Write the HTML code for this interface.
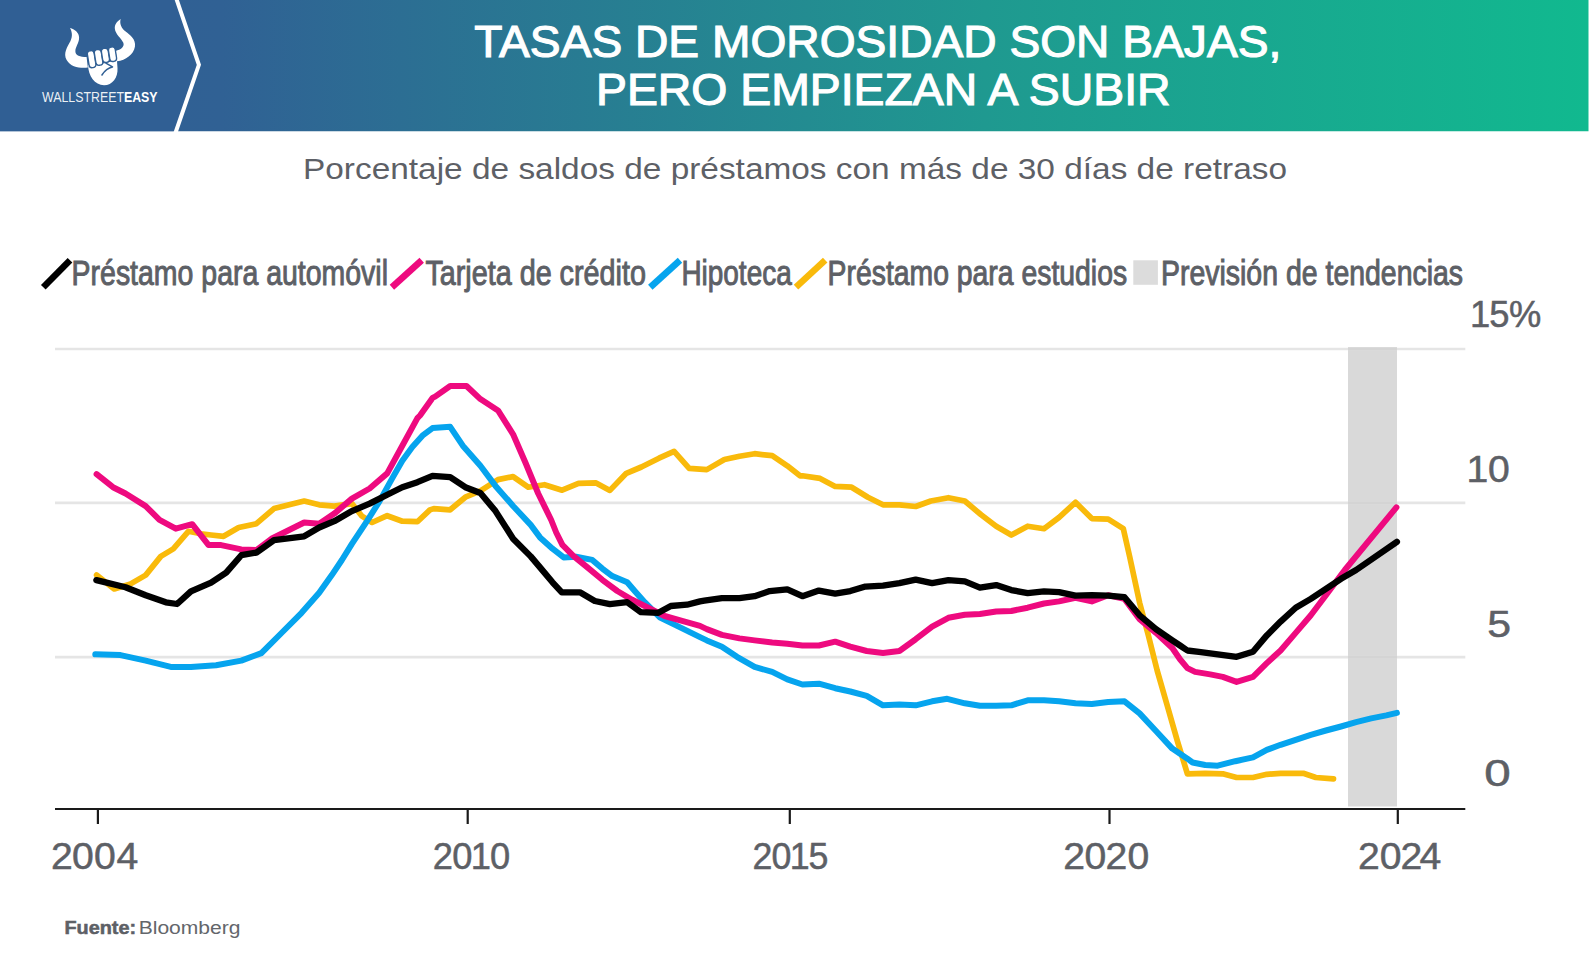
<!DOCTYPE html>
<html lang="es"><head><meta charset="utf-8"><title>Tasas de morosidad</title>
<style>
html,body{margin:0;padding:0;background:#fff;}
body{width:1590px;height:963px;overflow:hidden;font-family:"Liberation Sans",sans-serif;}
svg{display:block}
text{font-family:"Liberation Sans",sans-serif;}
.leg{font-weight:400;stroke:#5d6066;stroke-width:1px;}
.num{stroke:#5d6066;stroke-width:.5px;}
.ln{fill:none;stroke-width:6;stroke-linejoin:round;stroke-linecap:round}
</style></head><body>
<svg width="1590" height="963" viewBox="0 0 1590 963">
<defs>
<linearGradient id="hg" x1="0" y1="0" x2="1" y2="0">
<stop offset="0" stop-color="#305e94"/>
<stop offset="0.14" stop-color="#306194"/>
<stop offset="0.14" stop-color="#306194"/>
<stop offset="0.62" stop-color="#1f9990"/>
<stop offset="1" stop-color="#11b98f"/>
</linearGradient>
</defs>
<rect x="0" y="0" width="1590" height="963" fill="#fff"/>
<!-- header -->
<rect x="0" y="0" width="1588.5" height="131.5" fill="url(#hg)"/>
<polygon points="0,0 176.3,0 198.9,64.8 175.7,131.5 0,131.5" fill="#305f94"/>
<polyline points="176.1,-2 198.9,64.8 175.4,133" fill="none" stroke="#fff" stroke-width="4" stroke-linejoin="miter"/>
<rect x="0" y="131.5" width="1590" height="6" fill="#fff"/>
<!-- logo -->
<g transform="translate(55,10) scale(0.083126)" fill="#fff">
<path d="M180,218 C235,235 290,270 290,335 C290,400 245,445 245,495 C245,545 300,565 380,565 L395,692 C300,700 190,690 140,600 C95,520 150,440 185,375 C215,320 205,260 180,218 Z"/>
<path d="M790,108 C745,135 715,175 720,225 C725,290 800,340 822,395 C840,445 790,480 730,492 L748,618 C850,605 945,540 962,440 C975,350 900,300 850,260 C795,215 775,160 790,108 Z"/>
<path d="M398,660 C400,800 480,905 590,905 C690,905 760,810 752,700 L745,600 L600,640 Z"/>
<g stroke="#305f94" stroke-width="16">
<rect x="0" y="0" width="82" height="205" rx="38" transform="translate(384,497) rotate(-9)"/>
<rect x="0" y="0" width="84" height="190" rx="38" transform="translate(468,483) rotate(-9)"/>
<rect x="0" y="0" width="82" height="170" rx="38" transform="translate(553,468) rotate(-9)"/>
<rect x="0" y="0" width="82" height="175" rx="36" transform="translate(638,452) rotate(-9)"/>
</g>
<path d="M565,782 C600,725 640,695 692,685 L612,640" fill="none" stroke="#305f94" stroke-width="18" stroke-linecap="round" stroke-linejoin="round"/>
</g>
<text x="42" y="101.5" font-size="14.4" fill="#fff" textLength="115.6" lengthAdjust="spacingAndGlyphs"><tspan fill-opacity=".92">WALLSTREET</tspan><tspan font-weight="700">EASY</tspan></text>
<!-- title -->
<text x="474.3" y="56.8" font-size="44.6" fill="#fff" stroke="#fff" stroke-width="1.1" textLength="807" lengthAdjust="spacingAndGlyphs">TASAS DE MOROSIDAD SON BAJAS,</text>
<text x="596" y="104.7" font-size="44.6" fill="#fff" stroke="#fff" stroke-width="1.1" textLength="574.5" lengthAdjust="spacingAndGlyphs">PERO EMPIEZAN A SUBIR</text>
<!-- subtitle -->
<text x="303" y="179" font-size="29" fill="#5d6066" textLength="984" lengthAdjust="spacingAndGlyphs">Porcentaje de saldos de préstamos con más de 30 días de retraso</text>
<!-- legend -->
<line x1="43.3" y1="287.2" x2="70.0" y2="260.2" stroke="#000" stroke-width="6.6"/><text x="71.6" y="284.8" textLength="316.4" lengthAdjust="spacingAndGlyphs" font-size="35.2" fill="#5d6066" class="leg">Préstamo para automóvil</text>
<line x1="391.9" y1="287.2" x2="421.7" y2="260.2" stroke="#ee0a7f" stroke-width="6.6"/><text x="425.4" y="284.8" textLength="220.5" lengthAdjust="spacingAndGlyphs" font-size="35.2" fill="#5d6066" class="leg">Tarjeta de crédito</text>
<line x1="650.3" y1="287.2" x2="680.0" y2="260.2" stroke="#06a4ee" stroke-width="6.6"/><text x="681.4" y="284.8" textLength="110.3" lengthAdjust="spacingAndGlyphs" font-size="35.2" fill="#5d6066" class="leg">Hipoteca</text>
<line x1="796.0" y1="287.2" x2="825.2" y2="260.2" stroke="#f9ba0b" stroke-width="6.6"/><text x="827.6" y="284.8" textLength="299.5" lengthAdjust="spacingAndGlyphs" font-size="35.2" fill="#5d6066" class="leg">Préstamo para estudios</text>
<rect x="1133.3" y="260.3" width="24.6" height="24.5" fill="#dcdcdc"/><text x="1161" y="284.8" textLength="302.1" lengthAdjust="spacingAndGlyphs" font-size="35.2" fill="#5d6066" class="leg">Previsión de tendencias</text>
<!-- chart -->
<rect x="1348" y="347" width="49" height="459.5" fill="#d9d9d9"/>
<g stroke="#e5e5e5" stroke-width="2.7">
<line x1="55" y1="349" x2="1465.3" y2="349"/>
<line x1="55" y1="502.8" x2="1465.3" y2="502.8"/>
<line x1="55" y1="657.2" x2="1465.3" y2="657.2"/>
</g>
<g stroke="#d4d4d4" stroke-width="2.7">
<line x1="1348" y1="349" x2="1397" y2="349"/>
<line x1="1348" y1="502.8" x2="1397" y2="502.8"/>
<line x1="1348" y1="657.2" x2="1397" y2="657.2"/>
</g>
<path class="ln" stroke="#f9ba0b" style="stroke-width:5.7" d="M96.6,575.1 L114.2,588.9 L130.6,583.9 L145.7,575.1 L160.8,556.4 L173.3,548.9 L188.4,531.3 L201.0,533.8 L211.1,535.0 L223.6,536.3 L238.7,527.5 L256.4,523.7 L274.0,508.6 L289.1,504.8 L304.2,501.1 L319.2,504.8 L334.3,506.1 L351.9,503.6 L362.0,516.2 L372.1,522.5 L387.2,515.7 L402.3,521.2 L417.4,521.7 L429.9,509.9 L433.8,508.6 L450.2,509.8 L465.3,497.2 L480.4,490.9 L498.0,479.6 L513.1,476.6 L528.2,487.2 L544.5,484.7 L562.1,490.2 L578.5,483.4 L596.1,482.9 L609.9,490.4 L626.3,473.3 L641.4,467.0 L659.0,458.2 L674.1,451.4 L689.2,468.3 L706.8,469.6 L724.4,459.5 L739.5,456.2 L754.6,453.7 L772.2,455.7 L787.3,465.8 L800.0,475.8 L802.4,475.8 L820.1,478.4 L835.2,486.4 L851.6,487.2 L867.9,497.2 L883.0,504.8 L899.4,504.8 L915.7,506.5 L930.8,501.0 L948.4,497.7 L964.8,501.0 L981.1,514.8 L996.2,526.2 L1011.3,535.0 L1027.7,526.2 L1044.0,528.7 L1059.1,517.4 L1075.5,502.3 L1091.8,518.6 L1108.2,519.1 L1123.3,528.7 L1129.6,556.4 L1139.6,602.7 L1148.4,635.4 L1157.2,670.6 L1167.3,705.8 L1177.4,741.1 L1187.4,773.8 L1205.2,773.3 L1222.8,773.8 L1236.6,777.5 L1253.0,777.5 L1266.8,774.3 L1280.6,773.3 L1303.3,773.3 L1315.8,777.5 L1333.5,778.8"/>
<path class="ln" stroke="#06a4ee" d="M95.3,654.3 L120.5,655.1 L145.7,660.6 L170.8,666.9 L190.9,666.9 L216.1,665.2 L241.3,660.6 L261.4,653.1 L281.5,633.0 L301.6,612.8 L319.2,592.7 L331.8,575.1 L341.9,560.0 L351.9,543.8 L367.0,521.2 L379.6,501.1 L392.2,478.4 L402.3,460.8 L412.3,447.0 L422.4,435.7 L432.5,428.1 L450.2,426.8 L462.8,445.7 L480.4,465.8 L495.5,485.9 L513.1,506.0 L530.7,524.9 L540.0,537.4 L552.5,548.7 L563.7,557.4 L576.1,556.8 L592.3,559.9 L602.3,568.6 L612.3,576.1 L627.2,582.3 L634.7,591.0 L644.7,602.2 L659.6,617.2 L677.1,625.9 L700.0,637.1 L706.8,640.4 L721.9,646.7 L737.0,656.8 L754.6,666.9 L772.2,671.9 L787.3,679.4 L802.4,684.5 L818.9,683.7 L835.2,688.2 L850.3,691.5 L866.7,695.8 L883.0,705.3 L899.4,704.6 L915.7,705.3 L932.1,701.3 L947.2,698.8 L964.8,703.3 L979.9,705.8 L996.2,705.8 L1011.3,705.3 L1027.7,700.3 L1044.0,700.3 L1059.1,701.3 L1075.5,703.3 L1091.8,704.1 L1108.2,702.1 L1124.5,701.3 L1139.6,713.4 L1156.0,731.0 L1172.3,748.6 L1187.4,758.7 L1192.6,762.5 L1205.2,765.0 L1217.7,765.7 L1235.3,761.2 L1253.0,757.4 L1266.8,749.9 L1280.6,744.8 L1295.7,739.8 L1310.8,734.8 L1325.9,730.5 L1341.0,726.5 L1356.1,722.2 L1371.2,718.4 L1386.3,715.4 L1396.9,712.9"/>
<path class="ln" stroke="#ee0a7f" d="M96.6,474.2 L113.0,487.2 L125.5,493.5 L145.7,506.1 L159.5,519.9 L175.8,528.7 L192.2,524.2 L208.6,545.1 L221.1,545.1 L241.3,549.4 L256.4,550.1 L271.4,538.8 L291.6,528.7 L304.2,522.5 L319.2,523.7 L334.3,513.6 L351.9,498.6 L369.6,488.5 L387.2,473.4 L402.3,445.7 L417.4,418.1 L420.0,415.5 L432.5,397.9 L435.1,396.6 L450.2,386.0 L466.5,386.0 L480.4,399.1 L498.0,410.4 L513.1,434.3 L525.7,463.3 L538.2,493.5 L551.2,520.0 L556.2,532.5 L562.4,544.9 L573.6,556.1 L587.4,567.4 L602.3,579.8 L617.3,591.0 L632.2,599.8 L647.2,607.2 L664.6,616.0 L682.1,620.9 L700.0,625.9 L706.8,629.1 L721.9,634.9 L739.5,638.4 L754.6,640.4 L772.2,642.5 L787.3,643.7 L802.4,645.5 L818.9,645.5 L835.2,641.7 L850.3,646.7 L866.7,651.0 L883.0,653.0 L899.4,651.0 L915.7,639.2 L932.1,626.6 L948.4,617.8 L964.8,614.8 L979.9,614.0 L996.2,611.5 L1011.3,611.0 L1027.7,607.7 L1044.0,603.5 L1059.1,601.4 L1075.5,597.7 L1091.8,601.4 L1108.2,595.2 L1124.5,598.9 L1139.6,619.1 L1156.0,632.9 L1172.3,648.0 L1180.0,659.3 L1187.4,668.1 L1195.1,671.9 L1210.2,674.4 L1222.8,676.9 L1236.6,681.9 L1253.0,676.9 L1266.8,663.1 L1280.6,650.5 L1295.7,632.9 L1310.8,615.3 L1325.9,595.2 L1341.0,575.0 L1344.8,570.0 L1396.4,507.4"/>
<path class="ln" stroke="#000" style="stroke-width:6.3" d="M96.4,580.1 L125.5,587.2 L145.7,595.2 L165.8,602.3 L177.1,604.0 L190.9,591.4 L211.1,582.6 L226.2,572.6 L241.3,555.2 L256.4,552.6 L274.0,540.1 L304.2,536.3 L319.2,527.5 L334.3,521.2 L351.9,511.1 L369.6,503.6 L387.2,494.8 L402.3,487.2 L417.4,482.2 L432.5,475.9 L450.2,477.1 L465.3,487.2 L480.4,493.0 L495.5,511.1 L513.1,538.7 L530.7,556.4 L540.0,567.4 L552.5,582.3 L561.8,592.3 L579.9,592.3 L594.8,601.0 L609.8,604.1 L627.2,602.2 L640.9,612.2 L658.4,612.8 L670.8,606.0 L687.0,604.7 L700.0,601.4 L704.3,600.7 L721.9,598.2 L739.5,598.2 L754.6,596.2 L769.7,591.1 L787.3,589.4 L802.4,596.2 L818.9,590.6 L835.2,593.6 L850.3,591.1 L865.4,586.6 L883.0,585.6 L899.4,583.1 L915.7,579.6 L932.1,583.1 L948.4,580.1 L964.8,581.3 L979.9,587.6 L996.2,585.1 L1011.3,590.1 L1027.7,593.1 L1044.0,591.4 L1059.1,592.1 L1075.5,595.7 L1091.8,595.2 L1108.2,595.7 L1124.5,597.2 L1139.6,615.3 L1156.0,629.1 L1172.3,640.4 L1180.0,645.5 L1187.4,650.5 L1198.9,651.8 L1217.7,654.3 L1236.6,656.8 L1253.0,651.8 L1266.8,635.4 L1280.6,621.6 L1295.7,607.7 L1310.8,598.9 L1325.9,588.9 L1341.0,578.8 L1356.1,570.0 L1396.9,541.8"/>
<!-- axis -->
<g stroke="#1a1a1a" stroke-width="2.2">
<line x1="55" y1="809" x2="1465.3" y2="809"/>
<line x1="97.9" y1="809" x2="97.9" y2="824"/>
<line x1="467.7" y1="809" x2="467.7" y2="824"/>
<line x1="789.8" y1="809" x2="789.8" y2="824"/>
<line x1="1109.5" y1="809" x2="1109.5" y2="824"/>
<line x1="1397.8" y1="809" x2="1397.8" y2="824"/>
</g>
<text transform="scale(0.9930,1)" x="1480.46 1499.67 1519.62" y="327" font-size="36.6" fill="#5d6066" class="num">15%</text>
<text transform="scale(1.0700,1)" x="1370.46 1390.64" y="481.7" font-size="36.6" fill="#5d6066" class="num">10</text>
<text transform="scale(1.1700,1)" x="1271.12" y="636.8" font-size="36.6" fill="#5d6066" class="num">5</text>
<text transform="scale(1.3000,1)" x="1141.74" y="786.2" font-size="36.6" fill="#5d6066" class="num">0</text>
<text transform="scale(1.0700,1)" x="47.70 67.41 87.97 108.86" y="868.6" font-size="36.6" fill="#5d6066" class="num">2004</text>
<text transform="scale(0.9926,1)" x="436.10 455.69 474.17 493.75" y="868.6" font-size="36.6" fill="#5d6066" class="num">2010</text>
<text transform="scale(0.9775,1)" x="769.75 789.37 807.88 827.13" y="868.6" font-size="36.6" fill="#5d6066" class="num">2015</text>
<text transform="scale(1.0700,1)" x="993.63 1013.63 1033.26 1053.72" y="868.6" font-size="36.6" fill="#5d6066" class="num">2020</text>
<text transform="scale(1.0700,1)" x="1269.24 1289.42 1308.82 1326.62" y="868.6" font-size="36.6" fill="#5d6066" class="num">2024</text>
<!-- footer -->
<text x="64.5" y="933.7" font-size="17.5" font-weight="700" fill="#5d6066" stroke="#5d6066" stroke-width=".5" textLength="71.6" lengthAdjust="spacingAndGlyphs">Fuente:</text>
<text x="138.7" y="933.7" font-size="17.5" fill="#63666b" textLength="101.8" lengthAdjust="spacingAndGlyphs">Bloomberg</text>
</svg>
</body></html>
